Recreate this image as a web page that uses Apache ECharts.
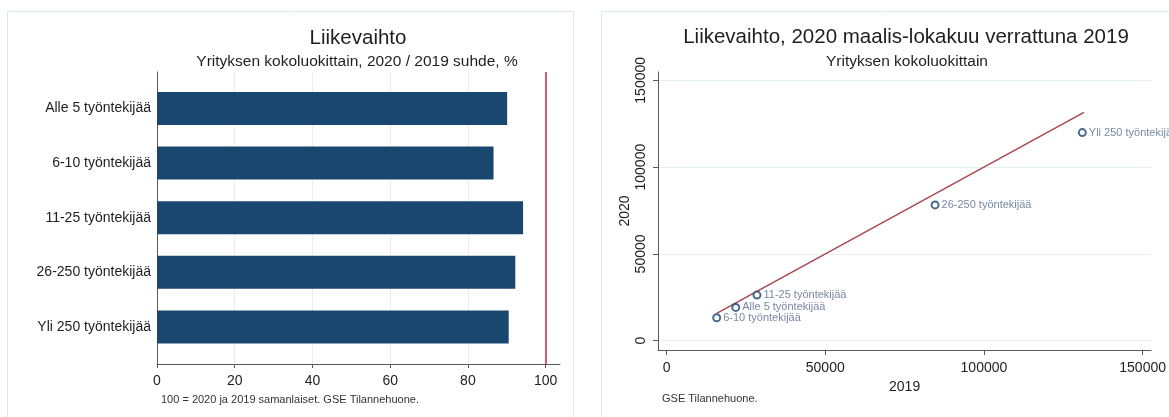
<!DOCTYPE html>
<html>
<head>
<meta charset="utf-8">
<script src="https://cdn.jsdelivr.net/npm/echarts@6/dist/echarts.min.js"></script>
<style>
  html, body { margin: 0; padding: 0; background: #ffffff; }
  #chart { width: 1169px; height: 417px; }
</style>
</head>
<body>
<div id="chart"></div>
<script>
// ---- Data ----
const sizeClasses = ['Alle 5 työntekijää', '6-10 työntekijää', '11-25 työntekijää', '26-250 työntekijää', 'Yli 250 työntekijää'];
const ratio2020to2019 = [90.1, 86.6, 94.2, 92.2, 90.5];        // %, left panel
const turnover2019 = [21800, 15800, 28500, 84600, 131000];        // right panel, x
const turnover2020 = [19200, 13200, 26300, 78250, 119900];        // right panel, y
const equalityLine = [[15800, 15800], [131500, 131500]];          // 2020 = 2019 line
const parityLevel = 100;
const barTicks = [0, 20, 40, 60, 80, 100];
const scatterTicks = [0, 50000, 100000, 150000];
const categoryIndex = [0, 1, 2, 3, 4];

const FONT = '"Liberation Sans", Arial, sans-serif';
const TXT = '#1e1e1e';
const NAVY = '#1a476f';
const GRID = '#e6eef0';
const AXIS = '#5a5a5a';

const chart = echarts.init(document.getElementById('chart'), null, { renderer: 'canvas' });

const barData = ratio2020to2019.map((v, i) => [v, i]);
const scatterData = sizeClasses.map((n, i) => ({ name: n, value: [turnover2019[i], turnover2020[i]] }));
const plain = v => String(Math.round(v));

const option = {
  backgroundColor: '#ffffff',
  animation: false,
  textStyle: { fontFamily: FONT },
  graphic: [
    { type: 'rect', shape: { x: 7.5, y: 11.5, width: 566, height: 420 }, style: { fill: 'none', stroke: '#dde7ea', lineWidth: 1 }, silent: true },
    { type: 'rect', shape: { x: 601.5, y: 11.5, width: 600, height: 420 }, style: { fill: 'none', stroke: '#dde7ea', lineWidth: 1 }, silent: true },
    { type: 'text', x: 358, y: 38, style: { text: 'Liikevaihto', align: 'center', verticalAlign: 'middle', fontSize: 20.5, fontFamily: FONT, fill: TXT } },
    { type: 'text', x: 357, y: 62, style: { text: 'Yrityksen kokoluokittain, 2020 / 2019 suhde, %', align: 'center', verticalAlign: 'middle', fontSize: 15.5, fontFamily: FONT, fill: TXT } },
    { type: 'text', x: 161, y: 400, style: { text: '100 = 2020 ja 2019 samanlaiset. GSE Tilannehuone.', align: 'left', verticalAlign: 'middle', fontSize: 11, fontFamily: FONT, fill: '#333333' } },
    { type: 'text', x: 906, y: 37, style: { text: 'Liikevaihto, 2020 maalis-lokakuu verrattuna 2019', align: 'center', verticalAlign: 'middle', fontSize: 20.5, fontFamily: FONT, fill: TXT } },
    { type: 'text', x: 907, y: 62, style: { text: 'Yrityksen kokoluokittain', align: 'center', verticalAlign: 'middle', fontSize: 15.5, fontFamily: FONT, fill: TXT } },
    { type: 'text', x: 662, y: 399, style: { text: 'GSE Tilannehuone.', align: 'left', verticalAlign: 'middle', fontSize: 11, fontFamily: FONT, fill: '#333333' } }
  ],
  grid: [
    { left: 157, right: 609, top: 72, bottom: 53, containLabel: false },
    { left: 658, right: 13, top: 72, bottom: 67, containLabel: false }
  ],
  xAxis: [
    {
      type: 'value', gridIndex: 0, min: 0, max: 103.7,
      axisLine: { show: true, onZero: false, lineStyle: { color: AXIS, width: 1 } },
      axisTick: { show: true, length: 4, customValues: barTicks, lineStyle: { color: AXIS } },
      axisLabel: { customValues: barTicks, formatter: plain, fontSize: 14, color: TXT, margin: 10, fontFamily: FONT },
      splitLine: { show: true, lineStyle: { color: GRID, width: 1 } }
    },
    {
      type: 'value', gridIndex: 1, min: -2690, max: 152700,
      name: '2019', nameLocation: 'middle', nameGap: 25,
      nameTextStyle: { fontSize: 14, color: TXT, fontFamily: FONT },
      axisLine: { show: true, onZero: false, lineStyle: { color: AXIS, width: 1 } },
      axisTick: { show: true, length: 5, customValues: scatterTicks, lineStyle: { color: AXIS } },
      axisLabel: { customValues: scatterTicks, formatter: plain, fontSize: 14, color: TXT, margin: 11, fontFamily: FONT },
      splitLine: { show: false }
    }
  ],
  yAxis: [
    {
      type: 'value', gridIndex: 0, inverse: true, min: -0.668, max: 4.678,
      axisLine: { show: true, onZero: false, lineStyle: { color: AXIS, width: 1 } },
      axisTick: { show: false, customValues: categoryIndex },
      axisLabel: { customValues: categoryIndex, formatter: v => sizeClasses[Math.round(v)], fontSize: 14, color: TXT, margin: 6, fontFamily: FONT },
      splitLine: { show: false }
    },
    {
      type: 'value', gridIndex: 1, min: -5350, max: 154800,
      name: '2020', nameLocation: 'middle', nameGap: 26,
      nameTextStyle: { fontSize: 14, color: TXT, fontFamily: FONT },
      axisLine: { show: true, onZero: false, lineStyle: { color: AXIS, width: 1 } },
      axisTick: { show: true, length: 5, customValues: scatterTicks, lineStyle: { color: AXIS } },
      axisLabel: { customValues: scatterTicks, formatter: plain, rotate: 90, fontSize: 14, color: TXT, margin: 10, fontFamily: FONT },
      splitLine: { show: true, lineStyle: { color: GRID, width: 1 } }
    }
  ],
  series: [
    {
      type: 'custom', xAxisIndex: 0, yAxisIndex: 0,
      data: barData,
      encode: { x: 0, y: 1 },
      renderItem: function (params, api) {
        const idx = api.value(1);
        const val = api.value(0);
        const p0 = api.coord([0, idx]);
        const p1 = api.coord([val, idx]);
        const h = Math.abs(api.size([0, 1])[1]) * 0.604;
        return {
          type: 'rect',
          shape: { x: p0[0], y: p0[1] - h / 2, width: p1[0] - p0[0], height: h },
          style: { fill: NAVY }
        };
      },
      markLine: {
        silent: true, symbol: ['none', 'none'], label: { show: false },
        emphasis: { disabled: true },
        lineStyle: { color: '#d6224f', width: 1.5, type: 'solid', opacity: 1 },
        data: [{ xAxis: parityLevel }]
      }
    },
    {
      type: 'line', xAxisIndex: 1, yAxisIndex: 1,
      data: equalityLine, showSymbol: false, symbol: 'none',
      lineStyle: { color: '#a8494f', width: 1.5 }, z: 2
    },
    {
      type: 'scatter', xAxisIndex: 1, yAxisIndex: 1,
      data: scatterData,
      symbol: 'emptyCircle', symbolSize: 7,
      itemStyle: { color: NAVY, borderColor: NAVY, borderWidth: 1.5 },
      label: { show: true, position: 'right', distance: 2, formatter: p => p.name, fontSize: 11, color: '#56698c', fontFamily: FONT },
      z: 3
    }
  ]
};

chart.setOption(option);
</script>
</body>
</html>
